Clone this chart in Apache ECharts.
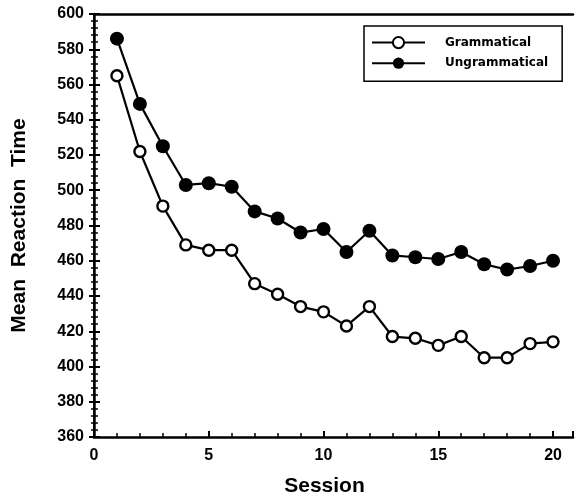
<!DOCTYPE html>
<html>
<head>
<meta charset="utf-8">
<script src="https://cdn.jsdelivr.net/npm/echarts@6/dist/echarts.min.js"></script>
<style>html,body{margin:0;padding:0;background:#fff;}#c{width:576px;height:496px;}</style>
</head>
<body>
<div id="c"></div>
<script>
var sessions = [1,2,3,4,5,6,7,8,9,10,11,12,13,14,15,16,17,18,19,20];
var grammatical = [565,522,491,469,466,466,447,441,434,431,423,434,417,416,412,417,405,405,413,414];
var ungrammatical = [586,549,525,503,504,502,488,484,476,478,465,477,463,462,461,465,458,455,457,460];
var seriesNames = ['Grammatical','Ungrammatical'];
var xTitle = 'Session';
var yTitle = 'Mean  Reaction  Time';

function pairs(vals){ return sessions.map(function(s,i){ return [s, vals[i]]; }); }

var chart = echarts.init(document.getElementById('c'));
var font = 'Liberation Sans';
chart.setOption({
  animation:false,
  backgroundColor:'#fff',
  grid:{left:94, right:3, top:14, bottom:59, containLabel:false, outerBoundsMode:'none'},
  legend:{
    orient:'vertical', left:364, top:26,
    data:seriesNames,
    borderColor:'#000', borderWidth:1.5,
    padding:[10,14,12,7],
    itemWidth:53, itemHeight:14, itemGap:8,
    textStyle:{fontFamily:'DejaVu Sans', fontWeight:'bold', fontSize:12, color:'#000', padding:[0,0,0,15]}
  },
  xAxis:[{
    type:'value', min:0, max:20.87, interval:5,
    name:xTitle, nameLocation:'middle', nameGap:39,
    nameTextStyle:{fontFamily:font, fontWeight:'bold', fontSize:21, color:'#000', padding:[0,18,0,0]},
    axisLine:{show:true, lineStyle:{color:'#000', width:2.5}},
    axisTick:{show:true, inside:true, length:6, lineStyle:{color:'#000', width:2}},
    minorTick:{show:true, splitNumber:5, length:4, lineStyle:{color:'#000', width:1.5}},
    splitLine:{show:false},
    axisLabel:{fontFamily:font, fontWeight:'bold', fontSize:16, color:'#000', margin:11,
      formatter:function(v){ return (v%5===0)? String(v) : ''; }}
  },{
    type:'value', position:'top', min:0, max:20.87,
    axisLine:{show:true, lineStyle:{color:'#000', width:2.5}},
    axisTick:{show:false}, axisLabel:{show:false}, splitLine:{show:false}
  }],
  yAxis:[{
    type:'value', min:360, max:600, interval:20,
    name:yTitle, nameLocation:'middle', nameGap:64, nameRotate:90,
    nameTextStyle:{fontFamily:font, fontWeight:'bold', fontSize:21, color:'#000'},
    axisLine:{show:true, lineStyle:{color:'#000', width:2.5}},
    axisTick:{show:true, inside:true, length:6, lineStyle:{color:'#000', width:2}},
    minorTick:{show:true, splitNumber:5, length:4, lineStyle:{color:'#000', width:1.5}},
    splitLine:{show:false},
    axisLabel:{fontFamily:font, fontWeight:'bold', fontSize:16, color:'#000', margin:10}
  },{
    type:'value', position:'right', min:360, max:600, interval:20,
    axisLine:{show:true, lineStyle:{color:'#000', width:2, type:'dotted'}},
    axisTick:{show:true, inside:true, length:5, lineStyle:{color:'#000', width:2}},
    minorTick:{show:true, splitNumber:5, length:3, lineStyle:{color:'#000', width:1.5}},
    axisLabel:{show:false}, splitLine:{show:false}
  }],
  series:[{
    name:seriesNames[0], type:'line', data:pairs(grammatical),
    symbol:'circle', symbolSize:11, showAllSymbol:true,
    lineStyle:{color:'#000', width:2.2},
    itemStyle:{color:'#fff', borderColor:'#000', borderWidth:2.4},
    z:3
  },{
    name:seriesNames[1], type:'line', data:pairs(ungrammatical),
    symbol:'circle', symbolSize:14, showAllSymbol:true,
    lineStyle:{color:'#000', width:2.2},
    itemStyle:{color:'#000', borderColor:'#000', borderWidth:0},
    z:3
  }]
});
</script>
</body>
</html>
